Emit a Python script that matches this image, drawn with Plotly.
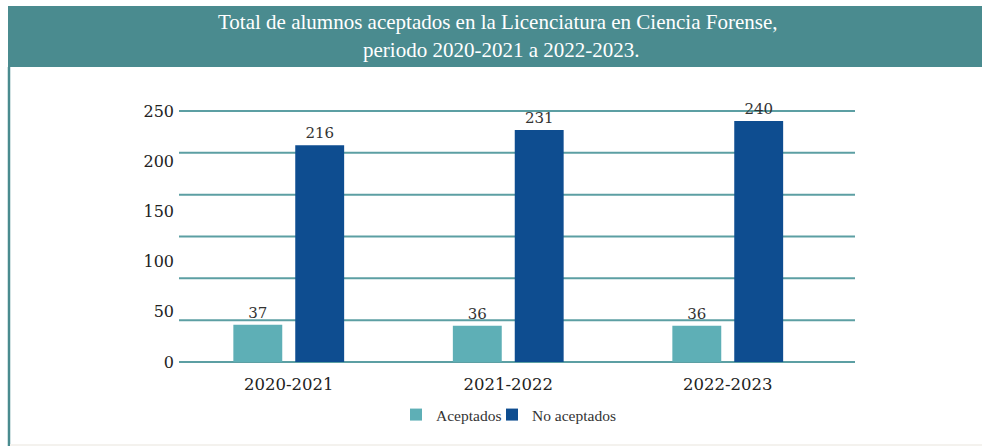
import plotly.graph_objects as go

# ---- data ----
periodos = ["2020-2021", "2021-2022", "2022-2023"]
aceptados = [37, 36, 36]
no_aceptados = [216, 231, 240]
ytick_vals = [0, 50, 100, 150, 200, 250]
series_names = ["Aceptados", "No aceptados"]
title_lines = ["Total de alumnos aceptados en la Licenciatura en Ciencia Forense,",
               "periodo 2020-2021 a 2022-2023."]

# ---- layout geometry (pixels) ----
W, H = 982, 446
YMAX = 250
PAD = 3  # px of padding above/below the 0..250 span so edge gridlines are not clipped
L, R = 179, 127
T, B = 111 - PAD, 84 - PAD
PW, PH = W - L - R, H - T - B
upp = YMAX / (PH - 2 * PAD)  # data units per pixel


def px_x(p):
    return (p - L) / PW


def px_y(p):
    return (H - B - p) / PH


C_LIGHT = "#5eafb6"
C_DARK = "#0e4d90"
C_HEAD = "#4a8b8f"
C_GRID = "#5c9fa3"
SERIF = "DejaVu Serif"

grid_vals = [YMAX * i / 6 for i in range(7)]

fig = go.Figure()
fig.add_trace(go.Bar(x=periodos, y=aceptados, name=series_names[0], marker_color=C_LIGHT,
                     marker_line_width=0, text=aceptados, textposition="outside",
                     textfont=dict(family=SERIF, size=15, color="#333333"),
                     cliponaxis=False, legend="legend"))
fig.add_trace(go.Bar(x=periodos, y=no_aceptados, name=series_names[1], marker_color=C_DARK,
                     marker_line_width=0, text=no_aceptados, textposition="outside",
                     textfont=dict(family=SERIF, size=15, color="#333333"),
                     cliponaxis=False, legend="legend2"))

shapes = [
    dict(type="rect", xref="paper", yref="paper", x0=px_x(8), x1=px_x(W + 2),
         y0=px_y(67), y1=px_y(6), fillcolor=C_HEAD, line_width=0, layer="below"),
    dict(type="line", xref="paper", yref="paper", x0=px_x(9), x1=px_x(9),
         y0=px_y(67), y1=px_y(H + 2), line=dict(color=C_HEAD, width=2.5)),
    dict(type="rect", xref="paper", yref="paper", x0=px_x(10), x1=px_x(W + 2),
         y0=px_y(H + 2), y1=px_y(444), fillcolor="#f4f2ee", line_width=0),
]
for g in grid_vals:
    shapes.append(dict(type="line", xref="paper", yref="y", x0=0, x1=1, y0=g, y1=g,
                       layer="below", line=dict(color=C_GRID, width=2)))

legend_common = dict(orientation="h", yanchor="middle", y=px_y(415), xanchor="left",
                     font=dict(family="Liberation Serif", size=15.5, color="#333333"),
                     bgcolor="rgba(0,0,0,0)", itemwidth=30)

fig.update_layout(
    width=W, height=H,
    margin=dict(l=L, r=R, t=T, b=B),
    paper_bgcolor="white", plot_bgcolor="white",
    barmode="group", bargap=0.436, bargroupgap=0.21,
    showlegend=True,
    legend=dict(x=px_x(396), **legend_common),
    legend2=dict(x=px_x(492), **legend_common),
    xaxis=dict(type="category", range=[-0.5, -0.5 + PW / 219.5], showgrid=False, zeroline=False,
               showline=False, ticks="", ticklabelstandoff=10 - PAD,
               tickfont=dict(family=SERIF, size=16.5, color="#222222")),
    yaxis=dict(range=[-PAD * upp, YMAX + PAD * upp], tickmode="array", tickvals=ytick_vals,
               showgrid=False, zeroline=False, showline=False, ticks="", ticklabelstandoff=4,
               tickfont=dict(family=SERIF, size=16, color="#222222")),
    shapes=shapes,
    annotations=[
        dict(text=title_lines[0], xref="paper", yref="paper", x=px_x(497), y=px_y(22),
             xanchor="center", yanchor="middle", showarrow=False,
             font=dict(family="Liberation Serif", size=21, color="white")),
        dict(text=title_lines[1], xref="paper", yref="paper", x=px_x(501), y=px_y(50),
             xanchor="center", yanchor="middle", showarrow=False,
             font=dict(family="Liberation Serif", size=21, color="white")),
    ],
)

fig.write_html("out.html", config={"displayModeBar": False},
               post_script="document.body.style.margin='0';")
